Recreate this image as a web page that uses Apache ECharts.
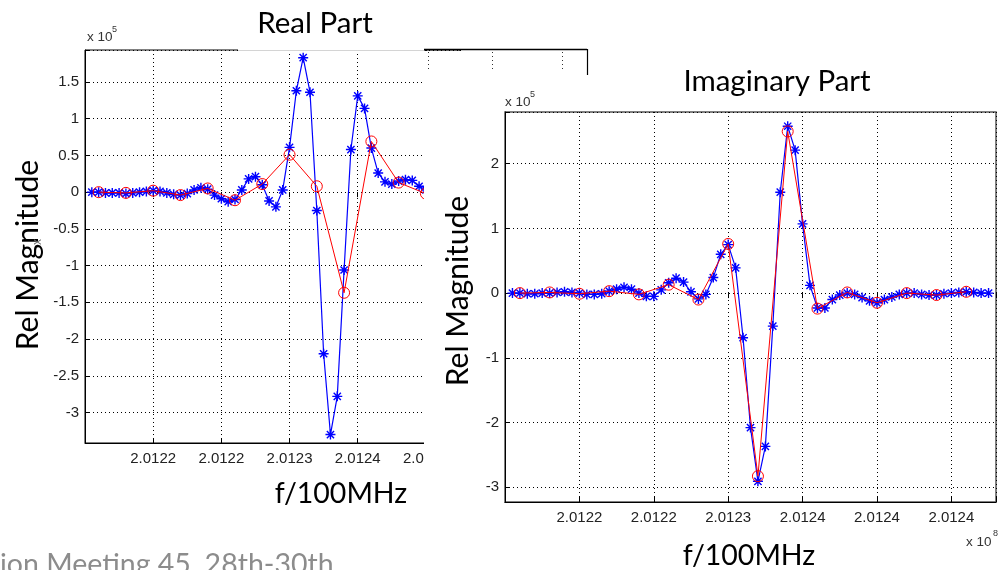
<!DOCTYPE html>
<html><head><meta charset="utf-8">
<script src="https://cdn.jsdelivr.net/npm/echarts@6/dist/echarts.min.js"></script>
<style>html,body{margin:0;padding:0;background:#fff}#c{width:999px;height:570px}</style>
</head><body><div id="c"></div>
<script>
// ---- data (x in grid units: one unit = one labelled tick step) ----
const xTickLabels = ['2.0122','2.0122','2.0123','2.0124','2.0124','2.0124'];
const blueStep = 0.1, redStart = 0.2, redStep = 0.4;
// Real part, blue '*' samples at x = 0.1 .. 5.0
const realBlue = [0.00,0.00,-0.01,-0.01,-0.01,-0.02,-0.01,0.00,0.01,0.02,
                  0.01,-0.01,-0.03,-0.04,-0.02,0.03,0.06,0.04,-0.04,-0.09,
                  -0.13,-0.10,0.03,0.18,0.21,0.10,-0.12,-0.20,0.03,0.61,
                  1.38,1.83,1.36,-0.25,-2.20,-3.30,-2.78,-1.06,0.58,1.31,
                  1.14,0.60,0.26,0.14,0.11,0.15,0.17,0.16,0.08,0.03];
// Real part, red 'o' samples at x = 0.2 .. 5.0
const realRed = [0.00,-0.01,0.02,-0.04,0.05,-0.11,0.11,0.51,0.08,-1.37,0.69,0.13,-0.02];
// Imaginary part, blue '*' samples at x = 0.1 .. 6.5
const imagBlue = [0.00,0.00,-0.01,-0.01,0.00,0.00,0.01,0.02,0.01,0.00,
                  -0.02,-0.02,-0.01,0.03,0.06,0.09,0.06,0.00,-0.05,-0.05,
                  0.05,0.16,0.23,0.17,0.02,-0.09,-0.02,0.24,0.60,0.75,
                  0.39,-0.69,-2.08,-2.91,-2.37,-0.51,1.56,2.58,2.21,1.07,
                  0.12,-0.23,-0.23,-0.10,-0.03,0.00,-0.02,-0.07,-0.12,-0.15,
                  -0.10,-0.06,-0.02,0.00,0.00,-0.02,-0.03,-0.03,-0.01,0.00,
                  0.01,0.02,0.01,0.00,0.00];
// Imaginary part, red 'o' samples at x = 0.2 .. 6.2
const imagRed = [0.00,0.01,-0.01,0.03,-0.02,0.13,-0.10,0.76,-2.83,2.50,-0.24,0.01,-0.15,0.00,-0.03,0.02];

const toPts = (arr, x0, dx) => arr.map((v, i) => [+(x0 + dx * i).toFixed(3), v]);

const STAR = 'path://M0,-5L0,5M-5,0L5,0M-3.6,-3.6L3.6,3.6M-3.6,3.6L3.6,-3.6';
const tickFont = { color: '#222', fontSize: 15, fontFamily: 'Liberation Sans' };
const dots = { type: [1, 3], color: '#000', width: 1 };

function xLabel(v) {
  const i = Math.round(v);
  if (Math.abs(v - i) > 1e-6 || i < 1 || i > xTickLabels.length) return '';
  return xTickLabels[i - 1];
}
function yLabel(step) {
  return v => Math.abs(v / step - Math.round(v / step)) < 1e-6 ? String(+v.toFixed(2)) : '';
}

function xAxes(grid, max) {
  return [
    { gridIndex: grid, type: 'value', min: 0, max: max, interval: 1, position: 'bottom',
      axisLine: { show: true, onZero: false, lineStyle: { color: '#000', width: 1 } },
      axisTick: { show: true, inside: true, length: 5, lineStyle: { color: '#000' } },
      axisLabel: Object.assign({ formatter: xLabel, margin: 8, showMinLabel: false }, tickFont),
      splitLine: { show: true, lineStyle: dots } },
    { gridIndex: grid, type: 'value', min: 0, max: max, interval: 1, position: 'top',
      axisLine: { show: false }, axisLabel: { show: false }, splitLine: { show: false },
      axisTick: { show: true, inside: true, length: 5, lineStyle: { color: '#000' } } }
  ];
}
function yAxis(grid, min, max, step) {
  return { gridIndex: grid, type: 'value', min: min, max: max, minInterval: step, maxInterval: step,
    axisLine: { show: true, onZero: false, lineStyle: { color: '#000', width: 1 } },
    axisTick: { show: true, inside: true, length: 5, lineStyle: { color: '#000' } },
    axisLabel: Object.assign({ formatter: yLabel(step), margin: 6 }, tickFont),
    splitLine: { show: true, lineStyle: dots } };
}
function blueSeries(xi, yi, data) {
  return { type: 'line', xAxisIndex: xi, yAxisIndex: yi, data: data, symbol: STAR, symbolSize: 10,
    showAllSymbol: true, animation: false, z: 3,
    lineStyle: { color: '#0000ff', width: 1.2 },
    itemStyle: { color: 'rgba(0,0,0,0)', borderColor: '#0000ff', borderWidth: 1.4 } };
}
function redSeries(xi, yi, data) {
  return { type: 'line', xAxisIndex: xi, yAxisIndex: yi, data: data, symbol: 'circle', symbolSize: 11,
    showAllSymbol: true, animation: false, z: 4,
    lineStyle: { color: '#ff0000', width: 1 },
    itemStyle: { color: 'rgba(0,0,0,0)', borderColor: '#ff0000', borderWidth: 1 } };
}

const bigFont = 'Lato';
function txt(x, y, s, size, opts) {
  return Object.assign({ type: 'text', x: x, y: y, z: 200,
    style: Object.assign({ text: s, fill: '#000', font: size + 'px ' + bigFont, textAlign: 'center', textVerticalAlign: 'middle' }, (opts && opts.style) || {}) },
    opts && opts.rotation !== undefined ? { rotation: opts.rotation } : {});
}
function small(x, y, s, size, align) {
  return { type: 'text', x: x, y: y, z: 200,
    style: { text: s, fill: '#333', font: size + 'px Liberation Sans', textAlign: align || 'left', textVerticalAlign: 'middle' } };
}

const chart = echarts.init(document.getElementById('c'), null, { renderer: 'canvas' });
chart.setOption({
  backgroundColor: '#fff',
  animation: false,
  grid: [
    { left: 85, top: 50, width: 375, height: 393, show: true, borderColor: '#000', borderWidth: 1 },
    { left: 505, top: 112, width: 500, height: 390, show: true, borderColor: '#555', borderWidth: 1.5 }
  ],
  xAxis: xAxes(0, 5.5).concat(xAxes(1, 6.6)),
  yAxis: [ yAxis(0, -3.415, 1.935, 0.5), yAxis(1, -3.23, 2.80, 1) ],
  series: [
    blueSeries(0, 0, toPts(realBlue, blueStep, blueStep)),
    redSeries(0, 0, toPts(realRed, redStart, redStep)),
    blueSeries(2, 1, toPts(imagBlue, blueStep, blueStep)),
    redSeries(2, 1, toPts(imagRed, redStart, redStep))
  ],
  graphic: [
    // clip of the left figure
    { type: 'rect', z: 100, shape: { x: 424, y: 51, width: 56, height: 428 }, style: { fill: '#fff' } },
    // title box over top edge of left figure
    { type: 'rect', z: 100, shape: { x: 238, y: 48.5, width: 186, height: 3 }, style: { fill: '#fff' } },
    { type: 'line', z: 101, shape: { x1: 238, y1: 50.5, x2: 424, y2: 50.5 }, style: { stroke: '#d4d4d4', lineWidth: 1 } },
    // pieces of a figure behind
    { type: 'line', z: 101, shape: { x1: 424, y1: 49.5, x2: 587, y2: 49.5 }, style: { stroke: '#000', lineWidth: 1.5 } },
    { type: 'line', z: 101, shape: { x1: 587.5, y1: 49, x2: 587.5, y2: 75 }, style: { stroke: '#000', lineWidth: 1.2 } },
    { type: 'line', z: 101, shape: { x1: 428.5, y1: 52, x2: 428.5, y2: 72 }, style: { stroke: '#333', lineWidth: 1, lineDash: [1, 3] } },
    { type: 'line', z: 101, shape: { x1: 492.5, y1: 52, x2: 492.5, y2: 72 }, style: { stroke: '#333', lineWidth: 1, lineDash: [1, 3] } },
    { type: 'line', z: 101, shape: { x1: 562.5, y1: 52, x2: 562.5, y2: 72 }, style: { stroke: '#333', lineWidth: 1, lineDash: [1, 3] } },
    // titles & labels
    txt(315, 23, 'Real Part', 29.5),
    txt(777, 81, 'Imaginary Part', 29.5),
    txt(28, 255, 'Rel Magnitude', 30, { rotation: Math.PI / 2 }),
    txt(458, 291, 'Rel Magnitude', 30, { rotation: Math.PI / 2 }),
    txt(341, 494, 'f/100MHz', 28.5),
    txt(749, 556, 'f/100MHz', 28.5),
    { type: 'text', x: 38, y: 242, z: 200, rotation: Math.PI / 2,
      style: { text: 'x', fill: '#666', font: '12px Liberation Sans', textAlign: 'center', textVerticalAlign: 'middle' } },
    { type: 'text', x: 0, y: 550, z: 200,
      style: { text: 'ion Meeting 45, 28th-30th', fill: '#8c8c8c', font: '28.5px ' + bigFont, textAlign: 'left', textVerticalAlign: 'top' } },
    small(87, 37, 'x 10', 13.5), small(112, 30, '5', 9),
    small(505, 102, 'x 10', 13.5), small(530, 95, '5', 9),
    small(966, 542, 'x 10', 13.5), small(993, 534, '8', 9)
  ]
});
</script></body></html>
